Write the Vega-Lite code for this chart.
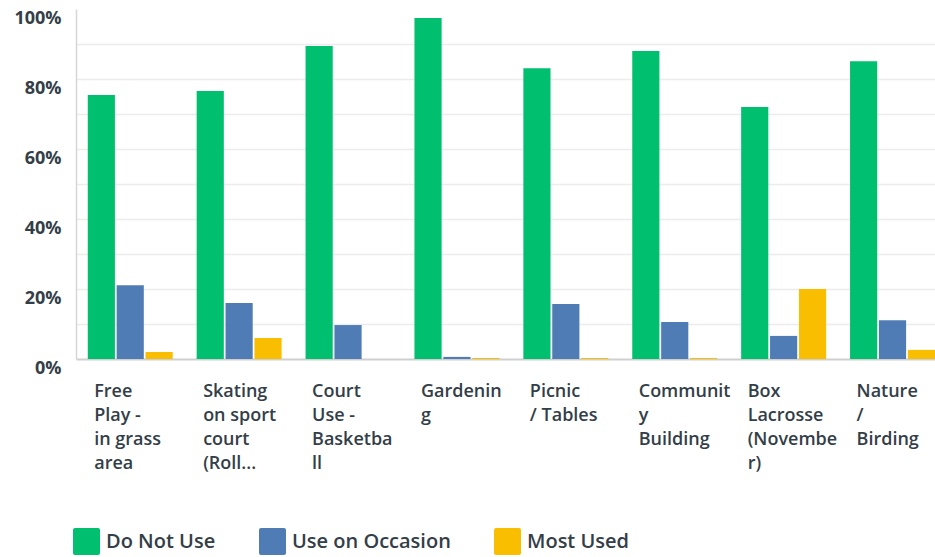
{
  "$schema": "https://vega.github.io/schema/vega-lite/v6.json",
  "width": 859,
  "height": 350,
  "autosize": {"type": "none"},
  "padding": {"left": 76, "top": 9, "right": 0, "bottom": 198},
  "background": "white",
  "data": {
    "values": [
      {"activity": "Free Play - in grass area", "response": "Do Not Use", "percent": 75.4},
      {"activity": "Free Play - in grass area", "response": "Use on Occasion", "percent": 21.1},
      {"activity": "Free Play - in grass area", "response": "Most Used", "percent": 2.0},
      {"activity": "Skating on sport court (Roll...", "response": "Do Not Use", "percent": 76.6},
      {"activity": "Skating on sport court (Roll...", "response": "Use on Occasion", "percent": 16.0},
      {"activity": "Skating on sport court (Roll...", "response": "Most Used", "percent": 6.0},
      {"activity": "Court Use - Basketball", "response": "Do Not Use", "percent": 89.4},
      {"activity": "Court Use - Basketball", "response": "Use on Occasion", "percent": 9.7},
      {"activity": "Court Use - Basketball", "response": "Most Used", "percent": 0},
      {"activity": "Gardening", "response": "Do Not Use", "percent": 97.4},
      {"activity": "Gardening", "response": "Use on Occasion", "percent": 0.6},
      {"activity": "Gardening", "response": "Most Used", "percent": 0.3},
      {"activity": "Picnic / Tables", "response": "Do Not Use", "percent": 83.1},
      {"activity": "Picnic / Tables", "response": "Use on Occasion", "percent": 15.7},
      {"activity": "Picnic / Tables", "response": "Most Used", "percent": 0.3},
      {"activity": "Community Building", "response": "Do Not Use", "percent": 88.0},
      {"activity": "Community Building", "response": "Use on Occasion", "percent": 10.6},
      {"activity": "Community Building", "response": "Most Used", "percent": 0.3},
      {"activity": "Box Lacrosse (November)", "response": "Do Not Use", "percent": 72.0},
      {"activity": "Box Lacrosse (November)", "response": "Use on Occasion", "percent": 6.6},
      {"activity": "Box Lacrosse (November)", "response": "Most Used", "percent": 20.0},
      {"activity": "Nature / Birding", "response": "Do Not Use", "percent": 85.1},
      {"activity": "Nature / Birding", "response": "Use on Occasion", "percent": 11.1},
      {"activity": "Nature / Birding", "response": "Most Used", "percent": 2.6}
    ]
  },
  "mark": {"type": "bar"},
  "encoding": {
    "x": {
      "field": "activity",
      "type": "nominal",
      "sort": null,
      "scale": {"paddingInner": 0.22, "paddingOuter": 0.054, "align": 1},
      "axis": {
        "title": null,
        "labelAngle": 0,
        "labelAlign": "left",
        "labelBaseline": "top",
        "labelOffset": -36,
        "labelPadding": 23,
        "labelOverlap": false,
        "labelBound": false,
        "labelLimit": 0,
        "ticks": false,
        "grid": false,
        "domainColor": "#cfcfcf",
        "domainWidth": 2,
        "labelFont": "Open Sans",
        "labelFontWeight": 600,
        "labelFontSize": 18,
        "labelColor": "#333e48",
        "labelLineHeight": 24,
        "labelExpr": "({'Free Play - in grass area': ['Free', 'Play -', 'in grass', 'area'], 'Skating on sport court (Roll...': ['Skating', 'on sport', 'court', '(Roll...'], 'Court Use - Basketball': ['Court', 'Use -', 'Basketba', 'll'], 'Gardening': ['Gardenin', 'g'], 'Picnic / Tables': ['Picnic', '/ Tables'], 'Community Building': ['Communit', 'y', 'Building'], 'Box Lacrosse (November)': ['Box', 'Lacrosse', '(Novembe', 'r)'], 'Nature / Birding': ['Nature', '/', 'Birding']})[datum.label]"
      }
    },
    "xOffset": {
      "field": "response",
      "type": "nominal",
      "sort": ["Do Not Use", "Use on Occasion", "Most Used"],
      "scale": {"paddingInner": 0.06}
    },
    "y": {
      "field": "percent",
      "type": "quantitative",
      "scale": {"domain": [0, 100], "nice": false},
      "axis": {
        "title": null,
        "values": [0, 10, 20, 30, 40, 50, 60, 70, 80, 90, 100],
        "labelExpr": "datum.value % 20 === 0 ? datum.value + '%' : ''",
        "grid": true,
        "gridColor": "#ececec",
        "gridWidth": 1.5,
        "gridOpacity": {"condition": {"test": "datum.value === 100 || datum.value === 0", "value": 0}, "value": 1},
        "ticks": false,
        "domainColor": "#d6d6d6",
        "domainWidth": 1.5,
        "labelPadding": 15,
        "labelOffset": 9,
        "labelFont": "Open Sans",
        "labelFontWeight": 700,
        "labelFontSize": 18,
        "labelColor": "#333e48"
      }
    },
    "color": {
      "field": "response",
      "type": "nominal",
      "sort": ["Do Not Use", "Use on Occasion", "Most Used"],
      "scale": {
        "domain": ["Do Not Use", "Use on Occasion", "Most Used"],
        "range": ["#00bf6f", "#507cb6", "#f9be00"]
      },
      "legend": {
        "title": null,
        "orient": "none",
        "direction": "horizontal",
        "legendX": -3,
        "legendY": 519,
        "symbolType": "M-0.85,-1L0.85,-1Q1,-1 1,-0.85L1,0.85Q1,1 0.85,1L-0.85,1Q-1,1 -1,0.85L-1,-0.85Q-1,-1 -0.85,-1Z",
        "symbolSize": 729,
        "symbolStrokeWidth": 0,
        "symbolOpacity": 1,
        "labelFont": "Open Sans",
        "labelFontWeight": 600,
        "labelFontSize": 20,
        "labelColor": "#333e48",
        "labelOffset": 6,
        "columnPadding": 43,
        "labelLimit": 0
      }
    }
  },
  "config": {"view": {"stroke": null}}
}
